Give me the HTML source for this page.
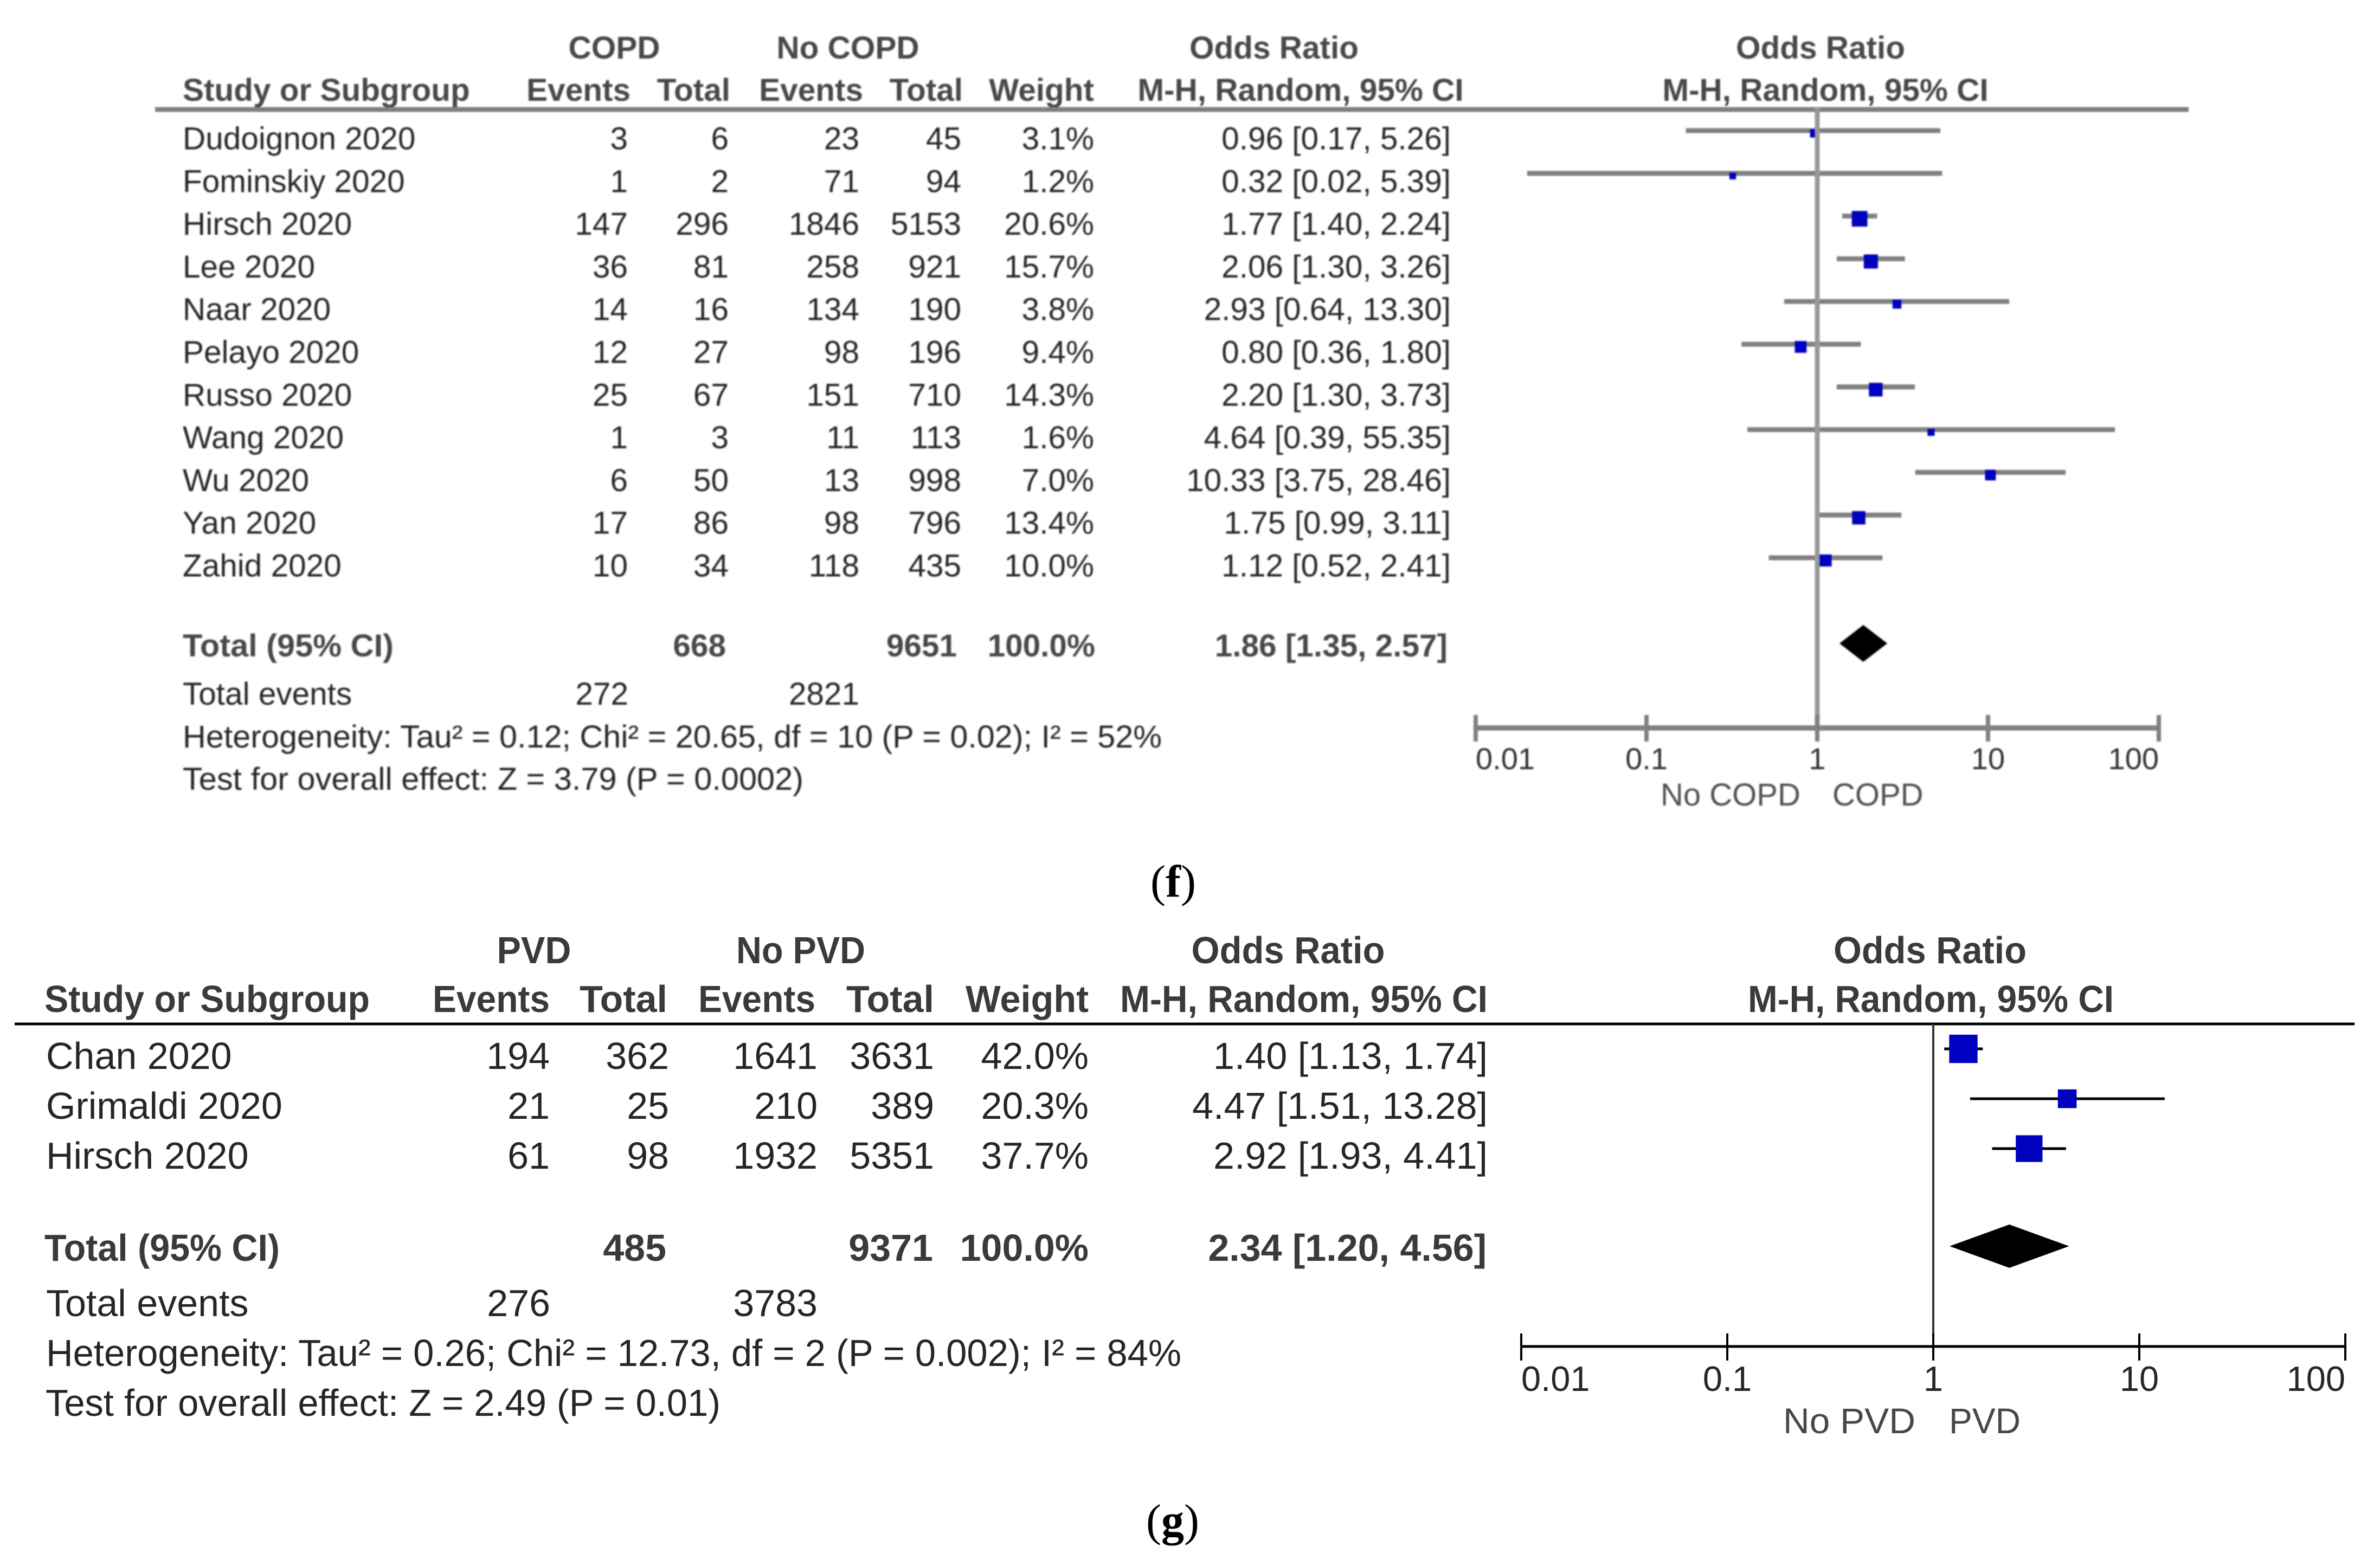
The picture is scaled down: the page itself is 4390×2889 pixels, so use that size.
<!DOCTYPE html>
<html lang="en">
<head>
<meta charset="utf-8">
<title>Forest plots: COPD and PVD</title>
<style>
html,body{margin:0;padding:0;background:#fff;width:4390px;height:2889px;overflow:hidden}
svg{display:block}
text{font-family:"Liberation Sans",sans-serif;white-space:pre}
.top{font-size:58.5px;fill:#262626}
.top.b{font-weight:700;fill:#484848}
.top.tick{font-size:56px;fill:#303030}
.top.side{font-size:58px;fill:#505050}
.bot{font-size:70px;fill:#262626}
.bot.b{font-weight:700;fill:#3a3a3a}
.bot.tick{font-size:65px;fill:#262626}
.bot.side{font-size:66px;fill:#484848}
.cap{font-family:"Liberation Serif",serif;font-size:84px;fill:#000}
#panel-f{filter:blur(1.2px)}
</style>
</head>
<body>
<svg id="chart" xmlns="http://www.w3.org/2000/svg" width="4390" height="2889" viewBox="0 0 4390 2889">
  <rect width="4390" height="2889" fill="#ffffff"/>

  <g id="panel-f">
    <text class="top b" x="1133" y="108" text-anchor="middle">COPD</text>
    <text class="top b" x="1564" y="108" text-anchor="middle">No COPD</text>
    <text class="top b" x="2350" y="108" text-anchor="middle">Odds Ratio</text>
    <text class="top b" x="3358" y="108" text-anchor="middle">Odds Ratio</text>
    <text class="top b" x="337" y="186">Study or Subgroup</text>
    <text class="top b" x="1163" y="186" text-anchor="end">Events</text>
    <text class="top b" x="1347" y="186" text-anchor="end">Total</text>
    <text class="top b" x="1592" y="186" text-anchor="end">Events</text>
    <text class="top b" x="1776" y="186" text-anchor="end">Total</text>
    <text class="top b" x="2018" y="186" text-anchor="end">Weight</text>
    <text class="top b" x="2399" y="186" text-anchor="middle">M-H, Random, 95% CI</text>
    <text class="top b" x="3367" y="186" text-anchor="middle">M-H, Random, 95% CI</text>
    <rect x="286" y="197.5" width="3751" height="9" fill="#808080"/>
    <text class="top b" x="337" y="1211" textLength="389" lengthAdjust="spacingAndGlyphs">Total (95% CI)</text>
    <text class="top" x="337" y="1300">Total events</text>
    <text class="top" x="337" y="1379" textLength="1806" lengthAdjust="spacingAndGlyphs">Heterogeneity: Tau² = 0.12; Chi² = 20.65, df = 10 (P = 0.02); I² = 52%</text>
    <text class="top" x="337" y="1457" textLength="1145" lengthAdjust="spacingAndGlyphs">Test for overall effect: Z = 3.79 (P = 0.0002)</text>
    <text class="top side" x="3063" y="1486">No COPD</text>
    <text class="top side" x="3380" y="1486">COPD</text>
  </g>

  <text class="cap" x="2164" y="1654" text-anchor="middle">(<tspan font-weight="700">f</tspan>)</text>

  <g id="panel-g">
    <text class="bot b" x="985" y="1777" text-anchor="middle" textLength="137" lengthAdjust="spacingAndGlyphs">PVD</text>
    <text class="bot b" x="1477" y="1777" text-anchor="middle" textLength="238" lengthAdjust="spacingAndGlyphs">No PVD</text>
    <text class="bot b" x="2376" y="1777" text-anchor="middle" textLength="357" lengthAdjust="spacingAndGlyphs">Odds Ratio</text>
    <text class="bot b" x="3560" y="1777" text-anchor="middle" textLength="356" lengthAdjust="spacingAndGlyphs">Odds Ratio</text>
    <text class="bot b" x="82" y="1867" textLength="600" lengthAdjust="spacingAndGlyphs">Study or Subgroup</text>
    <text class="bot b" x="1014" y="1867" text-anchor="end" textLength="216" lengthAdjust="spacingAndGlyphs">Events</text>
    <text class="bot b" x="1231" y="1867" text-anchor="end">Total</text>
    <text class="bot b" x="1504" y="1867" text-anchor="end" textLength="216" lengthAdjust="spacingAndGlyphs">Events</text>
    <text class="bot b" x="1723" y="1867" text-anchor="end">Total</text>
    <text class="bot b" x="2008" y="1867" text-anchor="end" textLength="227" lengthAdjust="spacingAndGlyphs">Weight</text>
    <text class="bot b" x="2744" y="1867" text-anchor="end" textLength="678" lengthAdjust="spacingAndGlyphs">M-H, Random, 95% CI</text>
    <text class="bot b" x="3224" y="1867" textLength="675" lengthAdjust="spacingAndGlyphs">M-H, Random, 95% CI</text>
    <rect x="27" y="1886.5" width="4316" height="5" fill="#000000"/>
    <text class="bot b" x="82" y="2326" textLength="434" lengthAdjust="spacingAndGlyphs">Total (95% CI)</text>
    <text class="bot" x="85" y="2428">Total events</text>
    <text class="bot" x="85" y="2520" textLength="2094" lengthAdjust="spacingAndGlyphs">Heterogeneity: Tau² = 0.26; Chi² = 12.73, df = 2 (P = 0.002); I² = 84%</text>
    <text class="bot" x="84" y="2612" textLength="1245" lengthAdjust="spacingAndGlyphs">Test for overall effect: Z = 2.49 (P = 0.01)</text>
    <text class="bot side" x="3289" y="2644" textLength="244" lengthAdjust="spacingAndGlyphs">No PVD</text>
    <text class="bot side" x="3595" y="2644" textLength="132" lengthAdjust="spacingAndGlyphs">PVD</text>
  </g>

  <text class="cap" x="2163" y="2833" text-anchor="middle">(<tspan font-weight="700">g</tspan>)</text>
</svg>

<script>
// Panel f: COPD
const copdStudies = ['Dudoignon 2020','Fominskiy 2020','Hirsch 2020','Lee 2020','Naar 2020','Pelayo 2020','Russo 2020','Wang 2020','Wu 2020','Yan 2020','Zahid 2020'];
const copdEvents = [3,1,147,36,14,12,25,1,6,17,10];
const copdTotals = [6,2,296,81,16,27,67,3,50,86,34];
const noCopdEvents = [23,71,1846,258,134,98,151,11,13,98,118];
const noCopdTotals = [45,94,5153,921,190,196,710,113,998,796,435];
const copdWeights = [3.1,1.2,20.6,15.7,3.8,9.4,14.3,1.6,7.0,13.4,10.0];
const copdOdds = [0.96,0.32,1.77,2.06,2.93,0.80,2.20,4.64,10.33,1.75,1.12];
const copdLower = [0.17,0.02,1.40,1.30,0.64,0.36,1.30,0.39,3.75,0.99,0.52];
const copdUpper = [5.26,5.39,2.24,3.26,13.30,1.80,3.73,55.35,28.46,3.11,2.41];
const copdPooled = [1.86,1.35,2.57];
const copdSums = [668,9651,272,2821];

// Panel g: PVD
const pvdStudies = ['Chan 2020','Grimaldi 2020','Hirsch 2020'];
const pvdEvents = [194,21,61];
const pvdTotals = [362,25,98];
const noPvdEvents = [1641,210,1932];
const noPvdTotals = [3631,389,5351];
const pvdWeights = [42.0,20.3,37.7];
const pvdOdds = [1.40,4.47,2.92];
const pvdLower = [1.13,1.51,1.93];
const pvdUpper = [1.74,13.28,4.41];
const pvdPooled = [2.34,1.20,4.56];
const pvdSums = [485,9371,276,3783];

// Shared axis
const axisTicks = [0.01,0.1,1,10,100];
const axisTickLabels = ['0.01','0.1','1','10','100'];

const SVG_NS = 'http://www.w3.org/2000/svg';

function makeShape(parent, tag, props) {
  const el = document.createElementNS(SVG_NS, tag);
  for (const k in props) el.setAttribute(k, props[k]);
  parent.appendChild(el);
  return el;
}
function makeText(parent, cls, x, y, str, anchor) {
  const el = makeShape(parent, 'text', {class: cls, x: x, y: y, 'text-anchor': anchor || 'end'});
  el.textContent = str;
  return el;
}
function ciText(or, lo, hi) {
  return or.toFixed(2) + ' [' + lo.toFixed(2) + ', ' + hi.toFixed(2) + ']';
}

function drawPanel(p, d) {
  const root = document.getElementById(p.id);
  const xScale = v => p.refX + p.decade * Math.log10(v);

  // confidence intervals and weight squares
  d.studies.forEach((name, i) => {
    const lineY = p.lineY0 + p.pitch * i;
    const textY = p.textY0 + p.pitch * i;
    const cols = [
      [p.cols[0], d.ev1[i]], [p.cols[1], d.tot1[i]],
      [p.cols[2], d.ev2[i]], [p.cols[3], d.tot2[i]],
      [p.cols[4], d.weights[i].toFixed(1) + '%'],
      [p.cols[5], ciText(d.odds[i], d.lower[i], d.upper[i])]
    ];
    const label = makeText(root, p.cls, p.nameX, textY, name, 'start');
    
    
    cols.forEach(c => {
      const cell = makeText(root, p.cls, c[0], textY, String(c[1]));
      
      
    });
    const x1 = xScale(d.lower[i]);
    const x2 = xScale(d.upper[i]);
    const ci = makeShape(root, 'rect', {x: x1, y: lineY - p.lineW / 2, width: x2 - x1, height: p.lineW, fill: p.lineColor});
    
    
    const size = p.sizeA + p.sizeB * Math.sqrt(d.weights[i]);
    const cx = xScale(d.odds[i]);
    const cy = lineY + p.squareDy;
    const sq = makeShape(root, 'rect', {x: cx - size / 2, y: cy - size / 2, width: size, height: size, fill: '#0000c0'});
    
    
  });

  // no-effect line
  const ref = makeShape(root, 'rect', {x: xScale(1) - p.refW / 2, y: p.ruleY, width: p.refW, height: p.axisY - p.ruleY, fill: p.refColor});
  
  

  // pooled diamond
  const dTop = p.diamondY - p.diamondH;
  const dBot = p.diamondY + p.diamondH;
  const pts = [
    xScale(d.pooled[1]) + ',' + p.diamondY,
    xScale(d.pooled[0]) + ',' + dTop,
    xScale(d.pooled[2]) + ',' + p.diamondY,
    xScale(d.pooled[0]) + ',' + dBot
  ].join(' ');
  const diamond = makeShape(root, 'polygon', {points: pts, fill: '#000000'});
  
  

  // total rows
  const totalCells = [
    [p.totalCols[0], p.totalY, String(d.sums[0])],
    [p.totalCols[1], p.totalY, String(d.sums[1])],
    [p.totalCols[2], p.totalY, '100.0%'],
    [p.totalCols[3], p.totalY, ciText(d.pooled[0], d.pooled[1], d.pooled[2])]
  ];
  totalCells.forEach(c => {
    const cell = makeText(root, p.cls + ' b', c[0], c[1], c[2]);
    
    
  });
  const ev1 = makeText(root, p.cls, p.eventCols[0], p.eventsY, String(d.sums[2]));
  
  
  const ev2 = makeText(root, p.cls, p.eventCols[1], p.eventsY, String(d.sums[3]));
  
  

  // axis
  const x0 = xScale(axisTicks[0]);
  const xN = xScale(axisTicks[axisTicks.length - 1]);
  const axis = makeShape(root, 'rect', {x: x0, y: p.axisY - p.axisW / 2, width: xN - x0, height: p.axisW, fill: p.lineColor});
  
  
  axisTicks.forEach((t, i) => {
    const tx = xScale(t);
    const tick = makeShape(root, 'rect', {x: tx - p.tickW / 2, y: p.axisY - p.tickUp, width: p.tickW, height: p.tickUp + p.tickDown, fill: p.lineColor});
    
    
    const anchor = i === 0 ? 'start' : (i === axisTicks.length - 1 ? 'end' : 'middle');
    const lab = makeText(root, p.cls + ' tick', tx, p.tickTextY, axisTickLabels[i], anchor);
    
    
  });
}

drawPanel({
  id: 'panel-f', cls: 'top', nameX: 337, textY0: 275.5, lineY0: 241, pitch: 78.8,
  cols: [1158, 1344, 1585, 1773, 2018, 2676],
  totalCols: [1339, 1765, 2020, 2670], eventCols: [1159, 1585],
  totalY: 1211, eventsY: 1300,
  refX: 3352, decade: 315, refW: 9, refColor: '#999999',
  lineW: 9, lineColor: '#808080', squareDy: 5, sizeA: 7, sizeB: 4.8,
  ruleY: 198, axisY: 1343, axisW: 9.5, tickW: 8, tickUp: 24, tickDown: 25, tickTextY: 1419,
  diamondY: 1187, diamondH: 34
}, {
  studies: copdStudies, ev1: copdEvents, tot1: copdTotals, ev2: noCopdEvents, tot2: noCopdTotals,
  weights: copdWeights, odds: copdOdds, lower: copdLower, upper: copdUpper, pooled: copdPooled, sums: copdSums
});

drawPanel({
  id: 'panel-g', cls: 'bot', nameX: 85, textY0: 1972, lineY0: 1935, pitch: 92,
  cols: [1014, 1234, 1508, 1723, 2008, 2744],
  totalCols: [1229, 1721, 2008, 2742], eventCols: [1015, 1508],
  totalY: 2326, eventsY: 2428,
  refX: 3566, decade: 380, refW: 4, refColor: '#333333',
  lineW: 5, lineColor: '#000000', squareDy: 0, sizeA: -6, sizeB: 9,
  ruleY: 1889, axisY: 2484, axisW: 5, tickW: 4, tickUp: 24, tickDown: 26, tickTextY: 2566,
  diamondY: 2299, diamondH: 40
}, {
  studies: pvdStudies, ev1: pvdEvents, tot1: pvdTotals, ev2: noPvdEvents, tot2: noPvdTotals,
  weights: pvdWeights, odds: pvdOdds, lower: pvdLower, upper: pvdUpper, pooled: pvdPooled, sums: pvdSums
});
</script>
</body>
</html>
